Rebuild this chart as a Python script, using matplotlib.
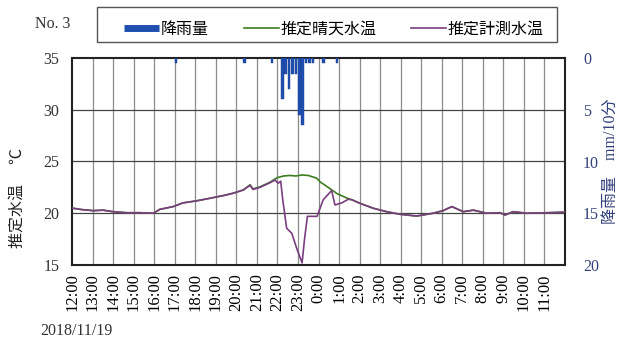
import numpy as np
import matplotlib.pyplot as plt
from matplotlib.lines import Line2D
from matplotlib.patches import Rectangle

plt.rcParams['font.family'] = ['Liberation Serif', 'Noto Sans CJK JP']

# hours after 12:00 on 2018/11/19
hour_ticks = list(range(24))
hour_labels = [f"{(12 + h) % 24}:00" for h in hour_ticks]

# rainfall (mm/10min), start of each 10 minute slot
rain_hours = [5.0, 8.333, 9.667, 10.167, 10.333, 10.5, 10.667, 10.833,
              11.0, 11.167, 11.333, 11.5, 11.667, 12.167, 12.833]
rain_mm = [0.5, 0.5, 0.5, 4.0, 1.5, 3.0, 1.5, 1.5,
           5.5, 6.5, 0.5, 0.5, 0.5, 0.5, 0.5]

# estimated measured water temperature
meas_hours = [0.0, 0.49, 1.04, 1.51, 2.0, 2.66, 3.31, 3.96, 4.28, 4.92,
              5.40, 6.07, 6.72, 7.35, 7.84, 8.34, 8.67, 8.81, 9.15, 9.64,
              9.88, 10.04, 10.16, 10.26, 10.45, 10.70, 10.94, 11.20, 11.32,
              11.46, 11.93, 12.23, 12.64, 12.80, 13.13, 13.45, 13.63, 14.02,
              14.67, 15.32, 15.97, 16.78, 17.58, 18.06, 18.49, 19.05, 19.54,
              20.19, 20.84, 21.08, 21.48, 22.14, 23.11, 24.0]
meas_temp = [20.5, 20.35, 20.25, 20.3, 20.15, 20.05, 20.05, 20.0, 20.38, 20.64,
             21.0, 21.2, 21.45, 21.7, 21.93, 22.25, 22.7, 22.3, 22.5, 22.95,
             23.2, 22.9, 23.1, 21.3, 18.55, 18.06, 16.6, 15.2, 17.5,
             19.7, 19.7, 21.3, 22.2, 20.8, 21.0, 21.35, 21.3, 20.96,
             20.48, 20.15, 19.9, 19.73, 20.0, 20.25, 20.64, 20.15, 20.3,
             20.0, 20.05, 19.83, 20.15, 20.0, 20.05, 20.1]

# estimated clear-weather water temperature
clear_hours = [0.0, 0.49, 1.04, 1.51, 2.0, 2.66, 3.31, 3.96, 4.28, 4.92,
               5.40, 6.07, 6.72, 7.35, 7.84, 8.34, 8.67, 8.81, 9.15, 9.64,
               9.88, 10.0, 10.3, 10.6, 10.9, 11.2, 11.5, 11.9, 12.1, 12.4,
               12.9, 13.4, 13.63, 14.02, 14.67, 15.32, 15.97, 16.78, 17.58,
               18.06, 18.49, 19.05, 19.54, 20.19, 20.84, 21.08, 21.48, 22.14,
               23.11, 24.0]
clear_temp = [20.5, 20.35, 20.25, 20.3, 20.15, 20.05, 20.05, 20.0, 20.38, 20.64,
              21.0, 21.2, 21.45, 21.7, 21.93, 22.25, 22.75, 22.35, 22.55, 23.0,
              23.3, 23.45, 23.6, 23.65, 23.6, 23.7, 23.65, 23.4, 23.0, 22.6,
              21.9, 21.45, 21.3, 20.96, 20.48, 20.15, 19.9, 19.73, 20.0,
              20.25, 20.64, 20.15, 20.3, 20.0, 20.05, 19.83, 20.15, 20.0,
              20.05, 20.1]

rain_col = '#1f4fb0'
clear_col = '#3c7d1e'
meas_col = '#7b3d82'
right_col = '#33417a'

fig = plt.figure(figsize=(6.2, 3.42), dpi=100)
ax = fig.add_axes([72/620, 1 - 265/342, 493/620, 207/342])

ax.plot(clear_hours, clear_temp, color=clear_col, lw=1.2, zorder=3)
ax.plot(meas_hours, meas_temp, color=meas_col, lw=1.2, zorder=4)

ax.set_xlim(0, 24)
ax.set_ylim(15, 35)
ax.set_yticks([15, 20, 25, 30, 35])
ax.set_xticks(hour_ticks)
ax.set_xticklabels(hour_labels, rotation=90, va='top')
for h in range(1, 24):
    ax.axvline(h, color='#8a8a8a', lw=0.9, zorder=1)
for t in [20, 25, 30]:
    ax.axhline(t, color='#444444', lw=0.9, zorder=1)
ax.tick_params(axis='both', length=0, labelsize=11.5)
ax.tick_params(axis='x', pad=6, labelsize=12)
ax.tick_params(axis='y', pad=9, labelcolor='#333333')
for sp in ax.spines.values():
    sp.set_linewidth(1.5)
    sp.set_color('#222222')

ax2 = ax.twinx()
ax2.bar(rain_hours, rain_mm, width=0.13, align='edge', color=rain_col,
        edgecolor='#1a3f90', linewidth=0.3, zorder=2)
ax2.set_ylim(20, 0)
ax2.set_yticks([0, 5, 10, 15, 20])
ax2.tick_params(axis='y', length=0, pad=13, labelsize=11.5, labelcolor=right_col)
for sp in ax2.spines.values():
    sp.set_visible(False)

fig.text(18/620, 1 - 198/342, '推定水温　 ℃', rotation=90, ha='center',
         va='center', fontsize=11.5, color='#222222')
fig.text(611/620, 1 - 161/342, '降雨量　mm/10分', rotation=90, ha='center',
         va='center', fontsize=11.5, color=right_col)
fig.text(35/620, 1 - 24/342, 'No. 3', ha='left', va='center', fontsize=11.5,
         color='#333333')
fig.text(40/620, 1 - 331/342, '2018/11/19', ha='left', va='center',
         fontsize=11.5, color='#333333')

# legend box, entries laid out inside it
fig.add_artist(Rectangle((97/620, 1 - 42/342), 460/620, 35/342,
                         transform=fig.transFigure, fill=False,
                         edgecolor='#555555', lw=1.0))
handles = [Line2D([], [], color=rain_col, lw=5, solid_capstyle='butt'),
           Line2D([], [], color=clear_col, lw=1.2),
           Line2D([], [], color=meas_col, lw=1.2)]
labels = ['降雨量', '推定晴天水温', '推定計測水温']
fig.legend(handles, labels, ncol=3, loc='lower left', mode='expand',
           bbox_to_anchor=(124/620, 1 - 38/342, 420/620, 27/342),
           fontsize=11.5, frameon=False, handlelength=2.2,
           handletextpad=0.1, columnspacing=1.8, borderpad=0,
           borderaxespad=0)

fig.savefig('out.png', dpi=100)
